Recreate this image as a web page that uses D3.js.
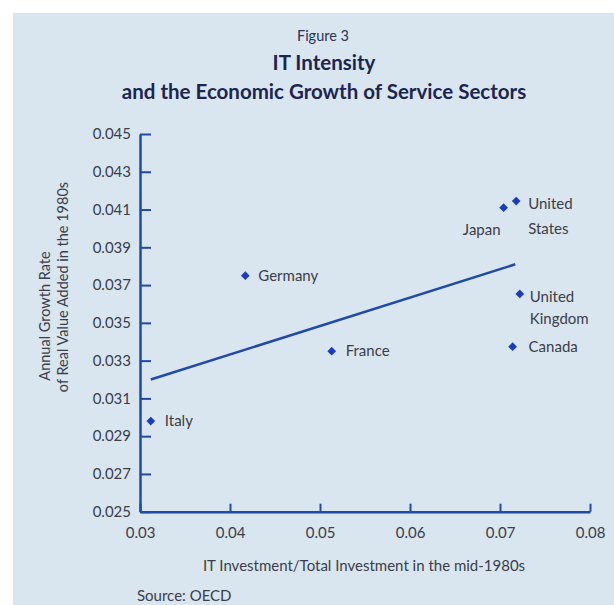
<!DOCTYPE html>
<html>
<head>
<meta charset="utf-8">
<script src="https://cdn.jsdelivr.net/npm/d3@7"></script>
<style>
  body { margin: 0; background: #fff; }
  svg text { font-family: Lato, "Open Sans", sans-serif; }
  .axis path, .axis line { stroke: #1f4aa8; }
  .axis text { fill: #3a3d4a; font-size: 15px; }
</style>
</head>
<body>
<div class="chart"></div>
<script>
// data
var countries = ["Italy", "Germany", "France", "Japan", "United States", "United Kingdom", "Canada"];
var itShare = [0.0312, 0.0417, 0.0513, 0.0704, 0.0718, 0.0722, 0.0714];
var growth = [0.0298, 0.0375, 0.0335, 0.0411, 0.04145, 0.03653, 0.03374];
var trendX = [0.0312, 0.0717];
var trendY = [0.0320, 0.0381];
var xTicks = [0.03, 0.04, 0.05, 0.06, 0.07, 0.08];
var yTicks = [0.025, 0.027, 0.029, 0.031, 0.033, 0.035, 0.037, 0.039, 0.041, 0.043, 0.045];

var svgWidth = 614;
var svgHeight = 605;

var svg = d3.select(".chart")
  .append("svg")
  .attr("width", svgWidth)
  .attr("height", svgHeight);

// light blue panel
svg.append("rect")
  .attr("x", 13).attr("y", 13)
  .attr("width", svgWidth - 13).attr("height", svgHeight - 13)
  .attr("fill", "#d9e6f0");

// titles
svg.append("text").attr("x", 323).attr("y", 41)
  .attr("text-anchor", "middle").attr("font-size", 14.5).attr("fill", "#2a3358")
  .text("Figure 3");
svg.append("text").attr("x", 324).attr("y", 70)
  .attr("text-anchor", "middle").attr("font-size", 20.5).attr("font-weight", 700).attr("fill", "#1c2550")
  .text("IT Intensity");
svg.append("text").attr("x", 324).attr("y", 99)
  .attr("text-anchor", "middle").attr("font-size", 20.5).attr("font-weight", 700).attr("fill", "#1c2550")
  .text("and the Economic Growth of Service Sectors");

var x = d3.scaleLinear().domain([0.03, 0.08]).range([140, 590]);
var y = d3.scaleLinear().domain([0.025, 0.045]).range([511.7, 134]);

var fmt = function(d) { return String(+d.toFixed(3)); };

svg.append("g")
  .attr("class", "axis")
  .attr("transform", "translate(140,0)")
  .call(d3.axisLeft(y).tickValues(yTicks).tickFormat(fmt).tickSize(-11).tickSizeOuter(0).tickPadding(9))
  .call(function(g) {
    g.select(".domain").attr("stroke-width", 2.5);
    g.selectAll(".tick line").attr("stroke-width", 2);
  });

svg.append("g")
  .attr("class", "axis")
  .attr("transform", "translate(0,511.7)")
  .call(d3.axisBottom(x).tickValues(xTicks).tickFormat(function(d) { return String(+d.toFixed(2)); })
    .tickSize(-8).tickSizeOuter(0).tickPadding(16))
  .call(function(g) {
    g.select(".domain").attr("stroke-width", 2.5);
    g.selectAll(".tick line").attr("stroke-width", 2);
  });

// axis titles
svg.append("text").attr("x", 364).attr("y", 571)
  .attr("text-anchor", "middle").attr("font-size", 15).attr("fill", "#3a3d4a")
  .text("IT Investment/Total Investment in the mid-1980s");
svg.append("text").attr("x", 137).attr("y", 601)
  .attr("font-size", 15).attr("fill", "#3a3d4a")
  .text("Source: OECD");

svg.append("text")
  .attr("transform", "translate(50,316) rotate(-90)")
  .attr("text-anchor", "middle").attr("font-size", 14.5).attr("fill", "#3a3d4a")
  .text("Annual Growth Rate");
svg.append("text")
  .attr("transform", "translate(68,287) rotate(-90)")
  .attr("text-anchor", "middle").attr("font-size", 14.5).attr("fill", "#3a3d4a")
  .text("of Real Value Added in the 1980s");

// trend line
var trend = trendX.map(function(v, i) { return [v, trendY[i]]; });
svg.append("path")
  .datum(trend)
  .attr("d", d3.line().x(function(d) { return x(d[0]); }).y(function(d) { return y(d[1]); }))
  .attr("stroke", "#1f4aa8").attr("stroke-width", 2.5).attr("fill", "none");

// points
var pts = countries.map(function(c, i) { return { name: c, x: itShare[i], y: growth[i] }; });
svg.selectAll(".pt")
  .data(pts)
  .enter()
  .append("path")
  .attr("class", "pt")
  .attr("transform", function(d) { return "translate(" + x(d.x) + "," + y(d.y) + ")"; })
  .attr("d", d3.symbol().type(d3.symbolDiamond2).size(48))
  .attr("fill", "#1a3cc0");

// labels, placed next to each point
var labelPos = {
  "Italy": { dx: 14, dy: 0, lines: ["Italy"], anchor: "start", gap: 0 },
  "Germany": { dx: 13, dy: 0, lines: ["Germany"], anchor: "start", gap: 0 },
  "France": { dx: 14, dy: 0, lines: ["France"], anchor: "start", gap: 0 },
  "Japan": { dx: -3, dy: 22, lines: ["Japan"], anchor: "end", gap: 0 },
  "United States": { dx: 12, dy: 3, lines: ["United", "States"], anchor: "start", gap: 25 },
  "United Kingdom": { dx: 10, dy: 3, lines: ["United", "Kingdom"], anchor: "start", gap: 22 },
  "Canada": { dx: 16, dy: 0, lines: ["Canada"], anchor: "start", gap: 0 }
};

pts.forEach(function(d) {
  var p = labelPos[d.name];
  var t = svg.append("text")
    .attr("x", x(d.x) + p.dx)
    .attr("y", y(d.y) + p.dy + 5)
    .attr("text-anchor", p.anchor)
    .attr("font-size", 15)
    .attr("fill", "#3a3d4a");
  p.lines.forEach(function(line, i) {
    t.append("tspan")
      .attr("x", x(d.x) + p.dx)
      .attr("dy", i === 0 ? 0 : p.gap)
      .text(line);
  });
});
</script>
</body>
</html>
